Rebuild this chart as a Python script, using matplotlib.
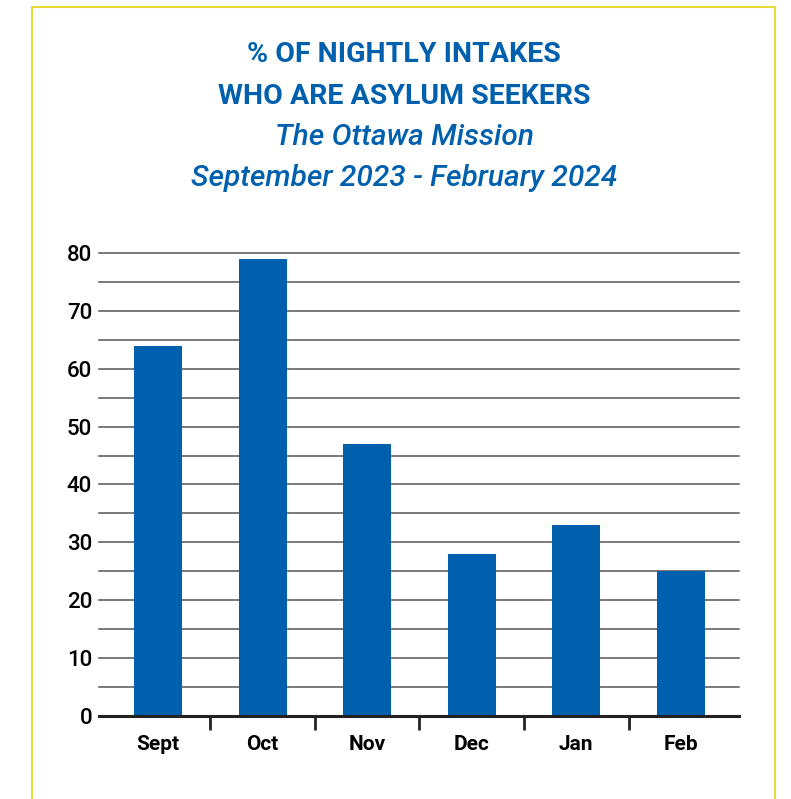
import numpy as np
import matplotlib.pyplot as plt
from matplotlib.patches import Rectangle

months = ["Sept", "Oct", "Nov", "Dec", "Jan", "Feb"]
pct = [64, 79, 47, 28, 33, 25]
yticks = [0, 10, 20, 30, 40, 50, 60, 70, 80]

blue = "#0060ae"
title_lines = ["% OF NIGHTLY INTAKES", "WHO ARE ASYLUM SEEKERS"]
sub_lines = ["The Ottawa Mission", "September 2023 - February 2024"]

plt.rcParams['font.family'] = ['Roboto', 'DejaVu Sans']

fig = plt.figure(figsize=(7.91, 7.99), dpi=100)
fig.patch.set_facecolor("white")

# yellow frame
fig.patches.append(Rectangle((32 / 791, -0.05), (775 - 32) / 791, 1.05 - 7 / 799,
                             transform=fig.transFigure, fill=False,
                             edgecolor="#e4dc3a", lw=1.5))

# titles
fig.text(0.511, 1 - 55 / 799, title_lines[0], ha="center", va="center",
         color=blue, fontsize=20.5, fontweight="bold")
fig.text(0.511, 1 - 97 / 799, title_lines[1], ha="center", va="center",
         color=blue, fontsize=20.5, fontweight="bold")
fig.text(0.511, 1 - 137 / 799, sub_lines[0], ha="center", va="center",
         color=blue, fontsize=21.5, style="italic", fontweight="medium")
fig.text(0.511, 1 - 178 / 799, sub_lines[1], ha="center", va="center",
         color=blue, fontsize=21.5, style="italic", fontweight="medium")

ax = fig.add_axes([99 / 791, 1 - 716 / 799, 640 / 791, 463 / 799])
x = np.arange(len(months))
ax.bar(x, pct, width=0.46, color=blue, zorder=3)

ax.set_xlim(-0.564, 5.555)
ax.set_ylim(0, 80)

# gridlines every 5
for g in range(5, 85, 5):
    ax.axhline(g, color="#555555", lw=1.1, zorder=1, clip_on=False)

for s in ["top", "right", "left"]:
    ax.spines[s].set_visible(False)
ax.spines["bottom"].set_color("#222222")
ax.spines["bottom"].set_linewidth(2.2)
ax.spines["bottom"].set_zorder(4)

ax.set_yticks(yticks)
ax.set_yticklabels([str(v) for v in yticks], fontsize=16, fontweight="medium")
ax.tick_params(axis="y", length=0, pad=5)

# category ticks between bars
ax.set_xticks(np.arange(0.5, len(months) - 1, 1.0))
ax.set_xticklabels([])
ax.tick_params(axis="x", which="major", length=10, width=2, color="#222222",
               direction="out")
ax.set_xticks(x, minor=True)
ax.set_xticklabels(months, minor=True, fontsize=15, fontweight="bold")
ax.tick_params(axis="x", which="minor", length=0, pad=14)

fig.savefig("out.png", dpi=100)
